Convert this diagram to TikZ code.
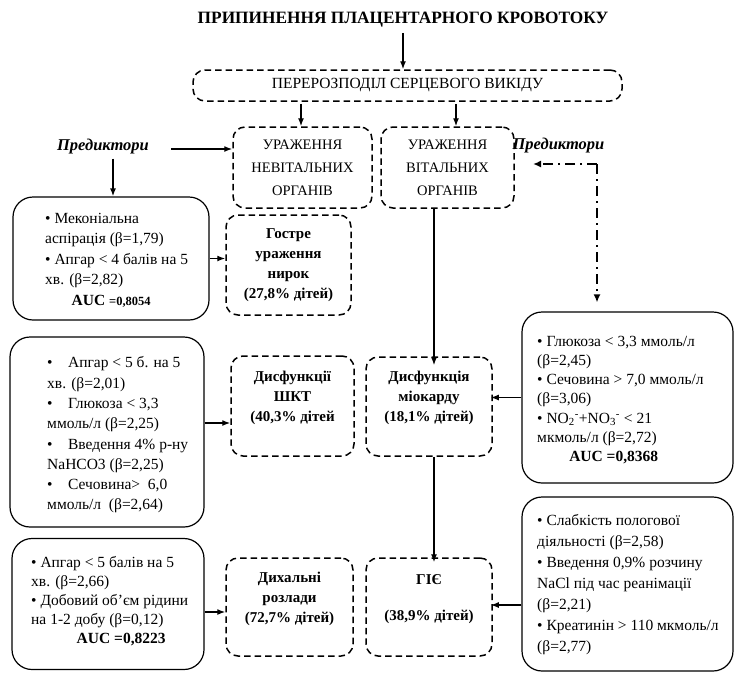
\documentclass[tikz,border=0pt]{standalone}
\usepackage{fontspec}
\setmainfont{Liberation Serif}
\usetikzlibrary{arrows.meta}
\tikzset{
 dbox/.style={draw, line width=1.5pt, dash pattern=on 6.5pt off 4pt, rounded corners=12pt, align=center, inner sep=0pt},
 bfb/.style={font=\bfseries\fontsize{15}{20}\selectfont},
 sbox/.style={draw, line width=1.2pt, rounded corners=20pt, inner sep=0pt},
 txt/.style={anchor=west, align=left, inner sep=0pt},
 arr/.style={line width=1.4pt, -{Latex[length=8pt,width=6pt]}},
 ddarr/.style={line width=2pt, dash pattern=on 10pt off 5pt on 2pt off 5pt, -{Latex[length=8pt,width=7pt]}},
 pred/.style={font=\bfseries\itshape\fontsize{16.5}{18}\selectfont, inner sep=0pt},
}
\begin{document}
\begin{tikzpicture}[x=1pt,y=-1pt]
\useasboundingbox (0,0) rectangle (738,673);
\clip (0,0) rectangle (738,673);
\fill[white] (0,0) rectangle (738,673);

\node[font=\bfseries\fontsize{17.3}{20}\selectfont, inner sep=0pt] (title) at (403,20) {ПРИПИНЕННЯ ПЛАЦЕНТАРНОГО КРОВОТОКУ};
\node[dbox, minimum width=429pt, minimum height=31pt, font=\fontsize{15.5}{18}\selectfont] (top) at (407.5,85.5) {ПЕРЕРОЗПОДІЛ СЕРЦЕВОГО ВИКІДУ};
\node[dbox, minimum width=139pt, minimum height=81pt, font=\fontsize{14.5}{23}\selectfont] (nv) at (302.5,167.5) {УРАЖЕННЯ\\НЕВІТАЛЬНИХ\\ОРГАНІВ};
\node[dbox, minimum width=133pt, minimum height=81pt, font=\fontsize{14.5}{23}\selectfont] (vb) at (447.5,167.5) {УРАЖЕННЯ\\ВІТАЛЬНИХ\\ОРГАНІВ};

\node[pred] (predL) at (103,147) {Предиктори};
\node[pred] (predR) at (558.5,146) {Предиктори};

% left column
\node[sbox, minimum width=196pt, minimum height=123pt] (b1) at (111,258.5) {};
\node[txt, font=\fontsize{15.5}{20.5}\selectfont] (t1) at (45,260)
 {\textbullet\ Меконіальна\\аспірація (β=1,79)\\\textbullet\ Апгар < 4 балів на 5\\хв. (β=2,82)\\\makebox[132pt][c]{\textbf{AUC {\fontsize{12.5}{19}\selectfont=0,8054}}}};
\node[dbox, bfb, minimum width=125pt, minimum height=100pt] (ren) at (288.5,265) {Гостре\\ураження\\нирок\\(27,8\% дітей)};

\node[sbox, minimum width=194pt, minimum height=190pt] (b2) at (107,432) {};
\node[txt, font=\fontsize{15.5}{20.3}\selectfont] (t2) at (47,435)
 {\textbullet\quad Апгар < 5 б. на 5\\хв. (β=2,01)\\\textbullet\quad Глюкоза < 3,3\\ммоль/л (β=2,25)\\\textbullet\quad Введення 4\% р-ну\\NaHCO3 (β=2,25)\\\textbullet\quad Сечовина> \ 6,0\\ммоль/л \ (β=2,64)};
\node[dbox, bfb, minimum width=123pt, minimum height=100pt] (shkt) at (292.5,406) {Дисфункції\\ШКТ\\(40,3\% дітей\\\mbox{}};
\node[dbox, bfb, minimum width=126pt, minimum height=99pt] (myo) at (429,406.5) {Дисфункція\\міокарду\\(18,1\% дітей)\\\mbox{}};

\node[sbox, minimum width=211pt, minimum height=171pt] (b3) at (627.5,397.5) {};
\node[txt, font=\fontsize{15.5}{19.2}\selectfont] (t3) at (537,400)
 {\textbullet\ Глюкоза < 3,3 ммоль/л\\(β=2,45)\\\textbullet\ Сечовина > 7,0 ммоль/л\\(β=3,06)\\\textbullet\ NO\textsubscript{2}\textsuperscript{-}+NO\textsubscript{3}\textsuperscript{-} < 21\\мкмоль/л (β=2,72)\\\makebox[153pt][c]{\textbf{AUC =0,8368}}};

\node[sbox, minimum width=192pt, minimum height=131pt] (b4) at (108,604) {};
\node[txt, font=\fontsize{15.5}{19}\selectfont] (t4) at (31,601)
 {\textbullet\ Апгар < 5 балів на 5\\хв. (β=2,66)\\\textbullet\ Добовий об’єм рідини\\на 1-2 добу (β=0,12)\\\makebox[180pt][c]{\textbf{AUC =0,8223}}};
\node[dbox, bfb, minimum width=127pt, minimum height=98pt] (dykh) at (289.5,607) {Дихальні\\розлади\\(72,7\% дітей)\\\mbox{}};
\node[dbox, minimum width=126pt, minimum height=98pt, font=\bfseries\fontsize{15}{18}\selectfont] (gie) at (429,607) {ГІЄ\\\mbox{}\\(38,9\% дітей)\\\mbox{}};

\node[sbox, minimum width=211pt, minimum height=174pt] (b5) at (627.5,584) {};
\node[txt, font=\fontsize{15.5}{21}\selectfont] (t5) at (537,585)
 {\textbullet\ Слабкість пологової\\діяльності (β=2,58)\\\textbullet\ Введення 0,9\% розчину\\NaCl під час реанімації\\(β=2,21)\\\textbullet\ Креатинін > 110 мкмоль/л\\(β=2,77)};

\coordinate (x301) at (301,0);
\coordinate (x456) at (456,0);
\coordinate (x113) at (113,0);
\coordinate (x434) at (434,0);
\coordinate (corner) at (597,164);
\coordinate (ddend) at (533,164);

\draw[arr] (title.south) ++(0,5) coordinate (t0) -- (top.north -| t0);
\draw[arr] ([yshift=-2pt]top.south -| x301) -- (nv.north -| x301);
\draw[arr] ([yshift=-2pt]top.south -| x456) -- (vb.north -| x456);
\draw[arr] ([xshift=22pt,yshift=-2pt]predL.east) -- ([yshift=-2pt]nv.west |- predL.east);
\draw[arr] ([yshift=-4pt]predL.south -| x113) -- (b1.north -| x113);
\draw[ddarr] (corner) -- (ddend);
\draw[ddarr] (corner) -- ([yshift=9pt]b3.north -| corner);

\draw[arr] (b1.east) -- (b1.east -| ren.west);
\draw[arr] ([yshift=9pt]b2.east) -- ([yshift=9pt]b2.east -| shkt.west);
\draw[arr] (vb.south -| x434) -- ([yshift=-9pt]myo.north -| x434);
\draw[arr] (myo.south -| x434) -- ([yshift=-5pt]gie.north -| x434);
\draw[arr] (b3.west) -- ([xshift=-2pt]b3.west -| myo.east);
\draw[arr] ([yshift=-8pt]b4.east) -- ([yshift=-8pt]b4.east -| dykh.west);
\draw[arr] ([yshift=-21pt]b5.west) -- ([xshift=-2pt,yshift=-21pt]b5.west -| gie.east);
\end{tikzpicture}
\end{document}
